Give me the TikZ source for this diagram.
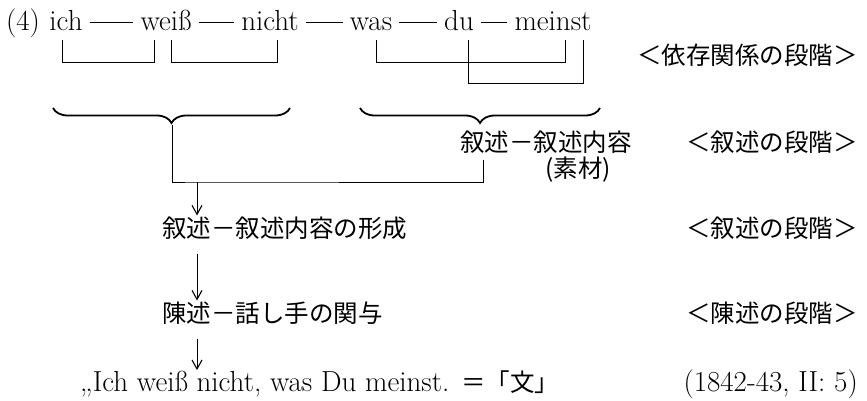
\documentclass[tikz,border=0pt]{standalone}
\usepackage{fontspec}
\newfontfamily\jp{Noto Sans CJK JP}
\usetikzlibrary{decorations.pathreplacing,calc,arrows.meta}
\begin{document}
\begin{tikzpicture}[x=1pt,y=-1pt,
  lat/.style={font=\fontsize{29}{34}\selectfont, inner sep=0pt, anchor=base},
  jpn/.style={font=\jp\fontsize{24.5}{30}\selectfont, inner sep=0pt},
  wdash/.style={line width=1pt, shorten <=7pt, shorten >=7pt},
  brk/.style={line width=1pt},
  brc/.style={line width=1.8pt, decorate, decoration={brace, mirror, amplitude=15pt}},
  arr/.style={line width=1pt, -{Straight Barb[length=9pt,width=10pt,line width=1.1pt]}},
]
\useasboundingbox (0,0) rectangle (867,400);
% first row
\node[lat] (n4) at (23,30) {(4)};
\node[lat] (ich) at (66,30) {ich};
\node[lat] (weiss) at (166,30) {weiß};
\node[lat] (nicht) at (270,30) {nicht};
\node[lat] (was) at (371,30) {was};
\node[lat] (du) at (459,30) {du};
\node[lat] (meinst) at (553,30) {meinst};
\draw[wdash] ($(ich.base east)+(0,-8)$) -- ($(weiss.base west)+(0,-8)$);
\draw[wdash] ($(weiss.base east)+(0,-8)$) -- ($(nicht.base west)+(0,-8)$);
\draw[wdash] ($(nicht.base east)+(0,-8)$) -- ($(was.base west)+(0,-8)$);
\draw[wdash] ($(was.base east)+(0,-8)$) -- ($(du.base west)+(0,-8)$);
\draw[wdash] ($(du.base east)+(0,-8)$) -- ($(meinst.base west)+(0,-8)$);
% dependency brackets
\draw[brk] ($(ich.base)+(-4,10)$) -- ++(0,22) -| ($(weiss.base)+(-12,10)$);
\draw[brk] ($(weiss.base)+(5,10)$) -- ++(0,22) -| ($(nicht.base)+(7,10)$);
\draw[brk] ($(was.base)+(5,10)$) -- ++(0,22) -| ($(meinst.base)+(12,10)$);
\draw[brk] ($(du.base)+(9,10)$) -- ++(0,43) -| ($(meinst.base)+(30,10)$);
% right labels
\node[jpn, anchor=east] (lab1) at (858,55) {＜依存関係の段階＞};
\node[jpn, anchor=east] (lab2) at (858,142) {＜叙述の段階＞};
\node[jpn, anchor=east] (lab3) at (858,228) {＜叙述の段階＞};
\node[jpn, anchor=east] (lab4) at (858,313) {＜陳述の段階＞};
\node[lat, anchor=base east] (cite) at (858,391) {(1842-43, II: 5)};
% braces
\coordinate (lb1) at (53,108);
\coordinate (lb2) at (290,108);
\coordinate (rb1) at (360,108);
\coordinate (rb2) at (600,108);
\draw[brc] (lb1) -- (lb2);
\draw[brc] (rb1) -- (rb2);
\coordinate (ltip) at (172,125);
% texts
\node[jpn, anchor=west] (xu) at (460,142) {叙述－叙述内容};
\node[jpn] (sozai) at (578,170) {(素材)};
\node[jpn, anchor=west] (form) at (162,228) {叙述－叙述内容の形成};
\node[jpn, anchor=west] (chin) at (162,313) {陳述－話し手の関与};
\node[lat, anchor=base west] (satz) at (80,391) {„Ich weiß nicht, was Du meinst. {\jp\fontsize{24.5}{30}\selectfont ＝「文」}};
% joining lines
\coordinate (tick) at (483,160);
\coordinate (junc) at (197,182);
\draw[brk] (ltip) |- (junc) -| (tick);
\draw[arr] (junc) -- ($(junc |- form.north)+(0,-1)$);
\draw[arr] ($(form.south west)+(35,14)$) -- ($(chin.north west)+(35,-1)$);
\draw[arr] ($(chin.south west)+(35,14)$) -- ($(satz.north west)+(117,0)$);
\end{tikzpicture}
\end{document}
